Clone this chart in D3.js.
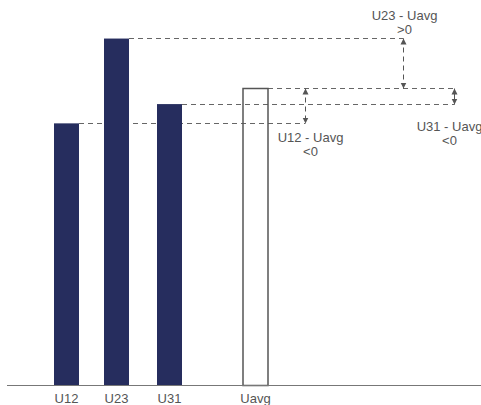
<!DOCTYPE html>
<head>
  <meta charset="utf-8">
  <title>Phase voltage unbalance</title>
  <style>
    body { margin: 0; background: #fff; }
    text { font-family: "Liberation Sans", Arial, sans-serif; font-size: 13px; fill: #555; }
  </style>
</head>
<body>
<script src="https://d3js.org/d3.v7.min.js"></script>
<script>
// Data
var phases = ["U12", "U23", "U31"];
var phaseValues = [68, 90, 73];
var avgLabel = "Uavg";
var avgValue = 77;

// differences shown with arrows: which phase, label text, sign text
var diffPhases = ["U23", "U12", "U31"];
var diffLabels = ["U23 - Uavg", "U12 - Uavg", "U31 - Uavg"];
var diffSigns = [">0", "<0", "<0"];

var width = 481,
    height = 405,
    baseline = 385.5,
    barWidth = 25;

var categories = phases.concat([avgLabel]);

var x = d3.scaleOrdinal()
    .domain(categories)
    .range([66.5, 116.5, 169.5, 255.5]);

var y = d3.scaleLinear()
    .domain([0, 100])
    .range([baseline, 0]);

// arrow positions / label offsets for each difference (layout only)
var arrowX = [403.5, 305.5, 454.5];
var labelPos = [
  {dx: 1, dy: [-19, -5], anchor: "top"},
  {dx: 5, dy: [18, 32], anchor: "bottom"},
  {dx: -5, dy: [26, 40], anchor: "bottom"}
];

function crisp(v) { return Math.round(v - 0.5) + 0.5; }

var svg = d3.select("body").append("svg")
    .attr("width", width)
    .attr("height", height);

var defs = svg.append("defs");
defs.append("marker")
    .attr("id", "head")
    .attr("viewBox", "0 0 6 8")
    .attr("refX", 6)
    .attr("refY", 4)
    .attr("markerWidth", 6)
    .attr("markerHeight", 8)
    .attr("markerUnits", "userSpaceOnUse")
    .attr("orient", "auto-start-reverse")
  .append("path")
    .attr("d", "M0,1L6,4L0,7Z")
    .attr("fill", "#555");

// dashed reference lines, drawn first so bars sit on top
var phaseData = phases.map(function(p, i) { return {key: p, value: phaseValues[i]}; });

var lineEnd = {};
diffPhases.forEach(function(p, i) {
  lineEnd[p] = arrowX[i];
  lineEnd[avgLabel] = Math.max(lineEnd[avgLabel] || 0, arrowX[i]);
});

var refs = phaseData.concat([{key: avgLabel, value: avgValue}]);

svg.selectAll(".ref")
    .data(refs)
  .enter().append("line")
    .attr("class", "ref")
    .attr("x1", function(d) { return x(d.key) + barWidth / 2; })
    .attr("x2", function(d) { return lineEnd[d.key]; })
    .attr("y1", function(d) { return crisp(y(d.value)); })
    .attr("y2", function(d) { return crisp(y(d.value)); })
    .attr("stroke", "#666")
    .attr("stroke-width", 1)
    .attr("stroke-dasharray", "5,4");

// phase bars
svg.selectAll(".bar")
    .data(phaseData)
  .enter().append("rect")
    .attr("class", "bar")
    .attr("x", function(d) { return x(d.key) - barWidth / 2; })
    .attr("y", function(d) { return y(d.value); })
    .attr("width", barWidth)
    .attr("height", function(d) { return baseline - y(d.value); })
    .attr("fill", "#262d5e");

// average bar (hollow)
svg.append("rect")
    .attr("x", x(avgLabel) - barWidth / 2)
    .attr("y", crisp(y(avgValue)))
    .attr("width", barWidth)
    .attr("height", baseline - crisp(y(avgValue)))
    .attr("fill", "none")
    .attr("stroke", "#555")
    .attr("stroke-width", 1.5);

// baseline
svg.append("line")
    .attr("x1", 7)
    .attr("x2", width)
    .attr("y1", baseline)
    .attr("y2", baseline)
    .attr("stroke", "#777")
    .attr("stroke-width", 1);

// category labels
var xAxis = svg.append("g")
    .attr("transform", "translate(0," + baseline + ")");
xAxis.selectAll("text")
    .data(categories)
  .enter().append("text")
    .attr("x", function(d) { return x(d); })
    .attr("y", 17)
    .attr("text-anchor", "middle")
    .text(function(d) { return d; });

// difference arrows and labels
diffPhases.forEach(function(p, i) {
  var v = phaseValues[phases.indexOf(p)];
  var y1 = crisp(y(Math.max(v, avgValue)));
  var y2 = crisp(y(Math.min(v, avgValue)));
  var ax = arrowX[i];

  svg.append("line")
      .attr("x1", ax).attr("x2", ax)
      .attr("y1", y1).attr("y2", y2)
      .attr("stroke", "#555")
      .attr("stroke-width", 1)
      .attr("stroke-dasharray", y2 - y1 > 25 ? "5,4" : null)
      .attr("marker-start", "url(#head)")
      .attr("marker-end", "url(#head)");

  var lp = labelPos[i];
  var ref = lp.anchor === "top" ? y1 : y2;
  [diffLabels[i], diffSigns[i]].forEach(function(t, j) {
    svg.append("text")
        .attr("x", ax + lp.dx)
        .attr("y", ref + lp.dy[j])
        .attr("text-anchor", "middle")
        .text(t);
  });
});
</script>
</body>
